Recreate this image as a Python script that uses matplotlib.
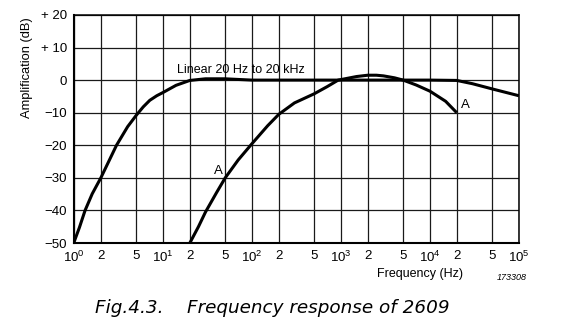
import matplotlib
import matplotlib.pyplot as plt

matplotlib.use("Agg")
plt.rcParams["font.family"] = ["Liberation Sans", "DejaVu Sans"]
plt.rcParams["mathtext.fontset"] = "custom"
plt.rcParams["mathtext.rm"] = "Liberation Sans"
plt.rcParams["mathtext.default"] = "regular"

# values (Hz, dB)
linear_freq = [1, 1.15, 1.33, 1.6, 2, 2.5, 3, 4, 5, 6, 7.1, 8.5, 10, 14, 20,
               30, 50, 70, 100, 1000, 10000, 20000, 30000, 50000, 100000]
linear_db = [-49.7, -45.2, -40, -34.9, -30, -24.5, -20, -14.3, -10.8, -8.2,
             -6.2, -4.8, -3.8, -1.6, -0.1, 0.4, 0.4, 0.2, 0, 0, 0, -0.1, -1.1,
             -2.7, -4.8]

a_freq = [20, 25, 30, 40, 50, 70, 100, 150, 200, 300, 500, 700, 930, 1500,
          2000, 2500, 3000, 4000, 5000, 7000, 10000, 15000, 20000]
a_db = [-50, -45, -40.5, -34.5, -30, -24.5, -19.5, -14, -10.5, -7, -4.2, -2,
        0, 1.1, 1.5, 1.5, 1.3, 0.7, 0, -1.5, -3.4, -6.5, -10]

x_ticks = [1, 2, 5, 10, 20, 50, 100, 200, 500, 1000, 2000, 5000, 10000,
           20000, 50000, 100000]
x_labels = ["$10^{0}$", "2", "5", "$10^{1}$", "2", "5", "$10^{2}$", "2", "5",
            "$10^{3}$", "2", "5", "$10^{4}$", "2", "5", "$10^{5}$"]
y_ticks = [-50, -40, -30, -20, -10, 0, 10, 20]
y_labels = ["\u221250", "\u221240", "\u221230", "\u221220", "\u221210", "0",
            "+ 10", "+ 20"]

fig = plt.figure(figsize=(5.61, 3.32), dpi=100)
ax = fig.add_axes([0.132, 0.268, 0.793, 0.687])

ax.plot(linear_freq, linear_db, color="black", lw=2.2, solid_capstyle="butt")
ax.plot(a_freq, a_db, color="black", lw=2.2, solid_capstyle="butt")

ax.set_xscale("log")
ax.set_xlim(1, 100000)
ax.set_ylim(-50, 20)
ax.set_xticks(x_ticks)
ax.set_xticklabels(x_labels)
ax.minorticks_off()
ax.set_yticks(y_ticks)
ax.set_yticklabels(y_labels)
ax.tick_params(length=0, labelsize=9.5, pad=5)
ax.grid(True, color="#1a1a1a", lw=0.9)
for s in ax.spines.values():
    s.set_linewidth(1.1)
ax.spines["left"].set_linewidth(1.5)
ax.spines["bottom"].set_linewidth(1.5)

ax.text(75, 3.2, "Linear 20 Hz to 20 kHz", ha="center", va="center", fontsize=9)
ax.text(41.5, -28, "A", ha="center", va="center", fontsize=9.5)
ax.text(25000, -7.6, "A", ha="center", va="center", fontsize=9.5)

fig.text(0.048, 0.795, "Amplification (dB)", rotation=90, ha="center",
         va="center", fontsize=9.3)
fig.text(0.749, 0.175, "Frequency (Hz)", ha="center", va="center", fontsize=9)
fig.text(0.913, 0.165, "173308", ha="center", va="center", fontsize=6.5,
         style="italic")
fig.text(0.17, 0.072, "Fig.4.3.    Frequency response of 2609", ha="left",
         va="center", fontsize=13.2, style="italic", family="DejaVu Sans")

fig.savefig("out.png", dpi=100)
